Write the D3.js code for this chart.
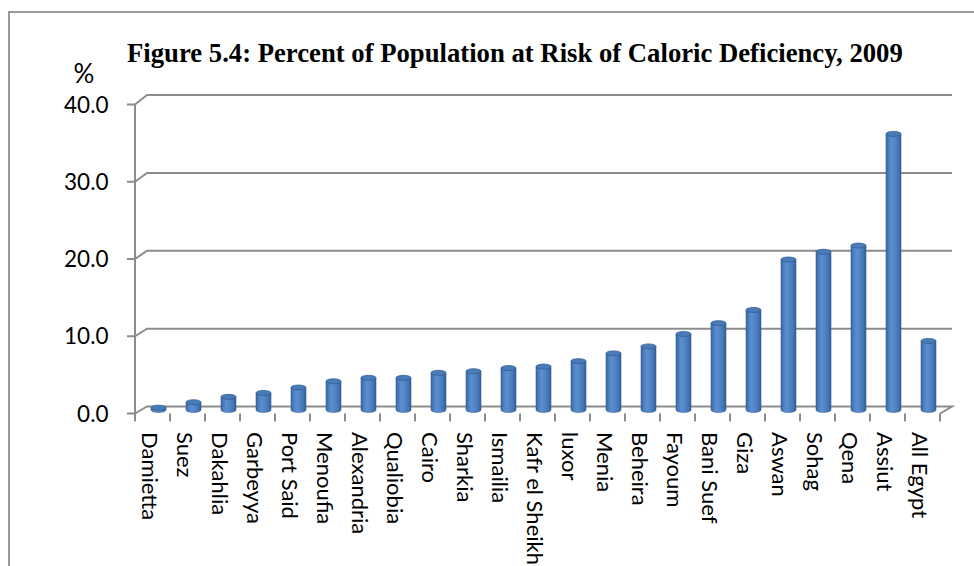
<!DOCTYPE html>
<html>
<head>
<meta charset="utf-8">
<script src="https://cdn.jsdelivr.net/npm/d3@7"></script>
<style>
  html, body { margin: 0; padding: 0; background: #ffffff; }
  svg { display: block; }
</style>
</head>
<body>
<svg id="chart" width="974" height="566"></svg>
<script>
// Governorates, sorted by share of population at risk
const categories = [
  "Damietta", "Suez", "Dakahlia", "Garbeyya", "Port Said", "Menoufia",
  "Alexandria", "Qualiobia", "Cairo", "Sharkia", "Ismailia", "Kafr el Sheikh",
  "luxor", "Menia", "Beheira", "Fayoum", "Bani Suef", "Giza", "Aswan",
  "Sohag", "Qena", "Assiut", "All Egypt"
];
const values = [
  0.3, 1.0, 1.7, 2.2, 2.9, 3.7,
  4.15, 4.15, 4.8, 5.0, 5.4, 5.6,
  6.3, 7.3, 8.2, 9.8, 11.2, 12.9, 19.4,
  20.4, 21.2, 35.6, 8.9
];
const yTicks = [0, 10, 20, 30, 40];
const titleText = "Figure 5.4: Percent of Population at Risk of Caloric Deficiency, 2009";
const unitLabel = "%";

const svg = d3.select("#chart");

// Outer chart frame (continues past the right and bottom edges)
svg.append("rect")
  .attr("x", 9).attr("y", 12)
  .attr("width", 1000).attr("height", 600)
  .attr("fill", "none").attr("stroke", "#9a9a9a").attr("stroke-width", 2);

// Pseudo-3D geometry: front plane and back wall offset by depth
const depth = { dx: 12, dy: -7.5 };
const x = d3.scaleBand().domain(categories).range([135, 940]).paddingInner(0).paddingOuter(0);
const yFront = d3.scaleLinear().domain([0, 40]).range([413.5, 104.5]);
const yBack = d3.scaleLinear().domain([0, 40]).range([406.5, 95]);
const yMid = v => (yFront(v) + yBack(v)) / 2;

const gridColor = "#8c8c8c";
const grid = svg.append("g").attr("stroke", gridColor).attr("fill", "none");

// Back-wall gridlines with the short diagonal to the front axis
yTicks.forEach(t => {
  if (t === 0) return;
  const path = d3.path();
  path.moveTo(x.range()[0], yFront(t));
  path.lineTo(x.range()[0] + depth.dx, yBack(t));
  path.lineTo(x.range()[1] + depth.dx, yBack(t));
  grid.append("path").attr("d", path.toString()).attr("stroke-width", 2);
});

// Floor outline
{
  const x0 = x.range()[0], x1 = x.range()[1];
  const p = d3.path();
  p.moveTo(x0, yFront(0));
  p.lineTo(x0 + depth.dx, yBack(0));
  p.lineTo(x1 + depth.dx, yBack(0));
  p.lineTo(x1, yFront(0));
  grid.append("path").attr("d", p.toString()).attr("stroke-width", 2);
}

// Bars as cylinders standing in the middle of the depth
const defs = svg.append("defs");
const grad = defs.append("linearGradient").attr("id", "cyl").attr("x1", "0").attr("x2", "1").attr("y1", "0").attr("y2", "0");
[["0%", "#35619a"], ["12%", "#4677b6"], ["35%", "#5b8fd0"], ["60%", "#5085c6"], ["85%", "#4372b0"], ["100%", "#2f5a90"]]
  .forEach(([o, c]) => grad.append("stop").attr("offset", o).attr("stop-color", c));

const barW = 15, ry = 2.5;
const bars = svg.append("g");
categories.forEach((c, i) => {
  const cx = x(c) + x.bandwidth() / 2 + depth.dx / 2;
  const yb = yMid(0);
  const yt = yMid(values[i]);
  const l = cx - barW / 2, r = cx + barW / 2;
  // body with an elliptical bottom edge
  const d = `M${l},${yt} L${l},${yb} A${barW / 2},${ry} 0 0 0 ${r},${yb} L${r},${yt} Z`;
  bars.append("path").attr("d", d).attr("fill", "url(#cyl)")
    .attr("stroke", "#3b669c").attr("stroke-width", 0.6);
  bars.append("ellipse").attr("cx", cx).attr("cy", yt)
    .attr("rx", barW / 2).attr("ry", ry)
    .attr("fill", "#4a7bb9").attr("stroke", "#335d92").attr("stroke-width", 0.8);
});

// Value axis (front edge) with ticks and labels
const axisG = svg.append("g").attr("stroke", gridColor).attr("stroke-width", 2);
axisG.append("line")
  .attr("x1", x.range()[0]).attr("x2", x.range()[0])
  .attr("y1", yFront(40)).attr("y2", yFront(0) + 1);
yTicks.forEach(t => {
  axisG.append("line")
    .attr("x1", x.range()[0] - 8).attr("x2", x.range()[0])
    .attr("y1", yFront(t)).attr("y2", yFront(t));
});
svg.append("g").selectAll("text").data(yTicks).join("text")
  .attr("x", 108.5).attr("y", d => yFront(d)).attr("dy", "0.36em")
  .attr("text-anchor", "end")
  .attr("font-family", "Lato, 'Open Sans', sans-serif").attr("font-size", 22.5)
  .attr("fill", "#000")
  .text(d => d3.format(".1f")(d));

// Category axis ticks at band boundaries
const bounds = categories.map(c => x(c)).concat([x.range()[1]]);
axisG.selectAll("line.xt").data(bounds).join("line").attr("class", "xt")
  .attr("x1", d => d).attr("x2", d => d)
  .attr("y1", yFront(0)).attr("y2", yFront(0) + 8);

// Category labels, rotated to read downward
svg.append("g").selectAll("text").data(categories).join("text")
  .attr("transform", d => `translate(${x(d) + x.bandwidth() / 2 - 2.5},432) rotate(90)`)
  .attr("dy", "0.36em")
  .attr("font-family", "Lato, 'Open Sans', sans-serif").attr("font-size", 22)
  .attr("fill", "#000")
  .text(d => d);

// Unit label and title
svg.append("text")
  .attr("x", 84).attr("y", 74).attr("dy", "0.36em").attr("text-anchor", "middle")
  .attr("font-family", "Lato, 'Open Sans', sans-serif").attr("font-size", 26)
  .text(unitLabel);

svg.append("text")
  .attr("x", 127).attr("y", 62)
  .attr("font-family", "'Liberation Serif', 'Times New Roman', serif")
  .attr("font-weight", "bold").attr("font-size", 26.7)
  .text(titleText);
</script>
</body>
</html>
